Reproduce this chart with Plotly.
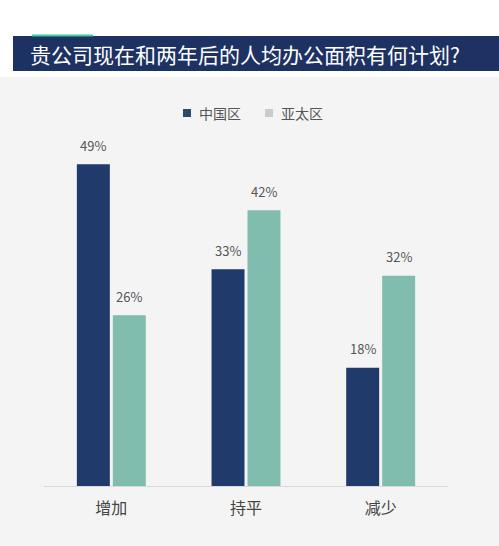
import plotly.graph_objects as go

categories = ["增加", "持平", "减少"]
china = [49, 33, 18]
apac = [26, 42, 32]
series_names = ["中国区", "亚太区"]
title_text = "贵公司现在和两年后的人均办公面积有何计划?"

W, H = 499, 546
ML, MR, MT, MB = 44, 51, 92, 60
pw, ph = W - ML - MR, H - MT - MB

def px_x(p):
    return (p - ML) / pw

def px_y(p):
    return (H - MB - p) / ph

FONT = "Noto Sans CJK SC"
NAVY = "#203a6b"
TEAL = "#80bdae"
LEG_COLORS = ["#2e4a66", "#c6cdcb"]

fig = go.Figure()
fig.add_trace(go.Bar(x=categories, y=china, name=series_names[0], marker_color=NAVY,
                     marker_line_width=0, showlegend=False, hoverinfo="skip"))
fig.add_trace(go.Bar(x=categories, y=apac, name=series_names[1], marker_color=TEAL,
                     marker_line_width=0, showlegend=False, hoverinfo="skip"))

for vals, shift in ((china, -18), (apac, 18)):
    for c, v in zip(categories, vals):
        fig.add_annotation(x=c, y=v, text=f"{v}%", showarrow=False, xshift=shift,
                           yshift=19, yanchor="middle",
                           font=dict(size=13, color="#555555", family=FONT))

shapes = [
    dict(type="rect", xref="paper", yref="paper", x0=px_x(0), x1=px_x(W),
         y0=px_y(H), y1=px_y(77), fillcolor="#f4f4f5", line_width=0, layer="below"),
    dict(type="rect", xref="paper", yref="paper", x0=px_x(13), x1=px_x(W),
         y0=px_y(71), y1=px_y(36), fillcolor="#1d3263", line_width=0, layer="below"),
    dict(type="line", xref="paper", yref="paper", x0=px_x(32), x1=px_x(93),
         y0=px_y(35.5), y1=px_y(35.5), line=dict(color="#3fcaa2", width=2)),
]

# legend (marker squares + labels)
leg_marker_x = [183, 265]
for name, col, mx in zip(series_names, LEG_COLORS, leg_marker_x):
    shapes.append(dict(type="rect", xref="paper", yref="paper", x0=px_x(mx), x1=px_x(mx + 8),
                       y0=px_y(117), y1=px_y(109), fillcolor=col, line_width=0))
    fig.add_annotation(xref="paper", yref="paper", x=px_x(mx + 14), y=px_y(113),
                       xanchor="left", yanchor="middle", text=name, showarrow=False,
                       font=dict(size=14, color="#555555", family=FONT))

fig.add_annotation(xref="paper", yref="paper", x=px_x(28), y=px_y(54), xanchor="left",
                   yanchor="middle", text=title_text, showarrow=False,
                   font=dict(size=21, color="white", family=FONT))

fig.update_layout(
    width=W, height=H,
    margin=dict(l=ML, r=MR, t=MT, b=MB),
    paper_bgcolor="white", plot_bgcolor="rgba(0,0,0,0)",
    barmode="group", bargap=0.466, bargroupgap=0.083,
    shapes=shapes,
    showlegend=False,
    hovermode=False,
    font=dict(family=FONT),
    xaxis=dict(showline=True, linecolor="#d9d9d9", linewidth=1, showgrid=False,
               ticks="", tickfont=dict(size=16, color="#444444", family=FONT),
               ticklabelstandoff=8, zeroline=False, fixedrange=True),
    yaxis=dict(range=[0, 60], visible=False, showgrid=False, zeroline=False,
               fixedrange=True),
)

fig.write_html("out.html", config={"displayModeBar": False},
               post_script="document.body.style.margin='0';")
